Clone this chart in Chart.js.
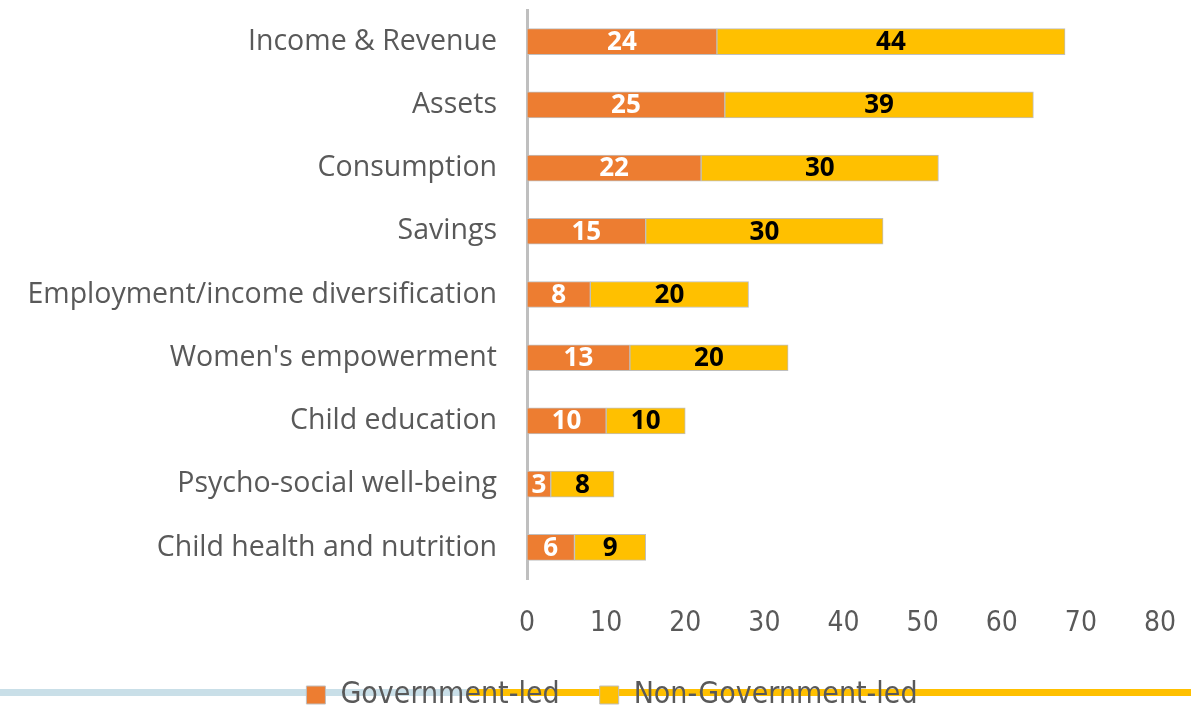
<!DOCTYPE html>
<html>
<head>
<meta charset="utf-8">
<script src="https://cdn.jsdelivr.net/npm/chart.js@4.4.1/dist/chart.umd.min.js"></script>
<style>
  html, body { margin: 0; padding: 0; background: #fff; }
  #chart-area { display: block; }
</style>
</head>
<body>
<canvas id="chart-area" width="1191" height="708"></canvas>
<script>
// data
var categories = [
    "Income & Revenue",
    "Assets",
    "Consumption",
    "Savings",
    "Employment/income diversification",
    "Women's empowerment",
    "Child education",
    "Psycho-social well-being",
    "Child health and nutrition"
];
var governmentLed = [24, 25, 22, 15, 8, 13, 10, 3, 6];
var nonGovernmentLed = [44, 39, 30, 30, 20, 20, 10, 8, 9];
var xTicks = [0, 10, 20, 30, 40, 50, 60, 70, 80];

var labelColors = ["#ffffff", "#000000"];

// writes the value in the middle of every bar piece
var valueLabels = {
    id: "valueLabels",
    afterDatasetsDraw: function (chart) {
        var c = chart.ctx;
        c.save();
        c.font = "bold 26px 'Open Sans', sans-serif";
        c.textAlign = "center";
        c.textBaseline = "middle";
        chart.data.datasets.forEach(function (ds, i) {
            var meta = chart.getDatasetMeta(i);
            c.fillStyle = labelColors[i];
            meta.data.forEach(function (bar, j) {
                var p = bar.getCenterPoint();
                c.fillText(ds.data[j], p.x, p.y + 1);
            });
        });
        c.restore();
    }
};

// the two coloured strokes behind the legend
var bottomStrokes = {
    id: "bottomStrokes",
    beforeDraw: function (chart) {
        var c = chart.ctx;
        c.save();
        c.fillStyle = "#c9dfe8";
        c.fillRect(0, 689, 467, 7);
        c.fillStyle = "#ffc000";
        c.fillRect(467, 689, 724, 7);
        c.restore();
    }
};

// legend sits a little right of the canvas centre in the original
var legendShift = {
    id: "legendShift",
    afterLayout: function (chart) {
        if (chart.legend) chart.legend.left = 64;
    }
};

var ctx = document.getElementById("chart-area");

var myChart = new Chart(ctx, {
    type: "bar",
    data: {
        labels: categories,
        datasets: [
            {
                label: "Government-led",
                data: governmentLed,
                backgroundColor: "#ed7d31",
                borderColor: "#bfbfbf",
                borderWidth: 1,
                borderSkipped: false,
                barThickness: 26
            },
            {
                label: "Non-Government-led",
                data: nonGovernmentLed,
                backgroundColor: "#ffc000",
                borderColor: "#bfbfbf",
                borderWidth: 1,
                borderSkipped: false,
                barThickness: 26
            }
        ]
    },
    options: {
        indexAxis: "y",
        responsive: false,
        animation: false,
        devicePixelRatio: 1,
        layout: { padding: { left: 0, right: 31, top: 10, bottom: -12 } },
        scales: {
            x: {
                stacked: true,
                min: 0,
                max: 80,
                afterBuildTicks: function (scale) {
                    scale.ticks = xTicks.map(function (v) { return { value: v }; });
                },
                afterFit: function (scale) {
                    scale.height = 61;
                    scale.paddingLeft = 0;
                    scale.paddingRight = 0;
                },
                grid: { display: false, drawTicks: false },
                border: { display: false },
                ticks: {
                    padding: 28,
                    color: "#595959",
                    font: { family: "'Liberation Sans Narrow', 'DejaVu Sans Condensed', sans-serif", size: 28 }
                }
            },
            y: {
                stacked: true,
                afterFit: function (scale) {
                    scale.width = 527;
                    scale.paddingTop = 0;
                    scale.paddingBottom = 0;
                },
                grid: { display: false, drawTicks: false },
                border: { display: true, color: "#bfbfbf", width: 3 },
                ticks: {
                    padding: 30,
                    color: "#595959",
                    font: { family: "'Open Sans', sans-serif", size: 28.5 }
                }
            }
        },
        plugins: {
            legend: {
                position: "bottom",
                labels: {
                    color: "#595959",
                    boxWidth: 19,
                    boxHeight: 18,
                    padding: 40,
                    font: { family: "'Liberation Sans Narrow', 'DejaVu Sans Condensed', sans-serif", size: 30 }
                }
            },
            tooltip: { enabled: false }
        }
    },
    plugins: [bottomStrokes, legendShift, valueLabels]
});
</script>
</body>
</html>
